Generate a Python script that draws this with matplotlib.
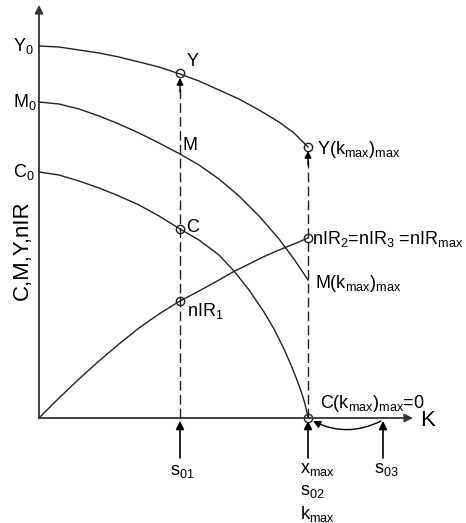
import matplotlib.pyplot as plt
from matplotlib.patches import FancyArrowPatch

plt.rcParams['font.family'] = ['Liberation Sans', 'DejaVu Sans']
plt.rcParams['mathtext.fontset'] = 'custom'
plt.rcParams['mathtext.rm'] = 'Liberation Sans'
plt.rcParams['mathtext.it'] = 'Liberation Sans'
plt.rcParams['mathtext.default'] = 'regular'

# curves (K, value)
y_k = [0, 20, 40, 60, 80, 100, 120, 141, 160, 180, 200, 220, 240, 255, 269]
y_v = [372, 371, 368, 365, 361, 356, 351, 344, 337, 328, 319, 308, 296, 285, 271]

m_k = [0, 20, 40, 60, 80, 100, 120, 141, 160, 180, 200, 220, 240, 255, 269]
m_v = [316, 314, 309, 302, 294, 285, 275, 264, 253, 239, 222, 202, 179, 159, 138]

c_k = [0, 20, 40, 60, 80, 100, 120, 141, 160, 180, 195, 210, 225, 235, 245, 252, 258, 263, 266, 269]
c_v = [246, 243, 237, 230, 222, 213, 202, 189, 178, 163, 147, 128, 106, 89, 69, 53, 38, 24, 14, 1]

nir_k = [0, 20, 40, 60, 80, 100, 120, 141, 160, 180, 194, 210, 224, 240, 255, 269]
nir_v = [0, 20, 39, 57, 74, 90, 104, 117, 127, 138, 146, 154, 161, 168, 174, 180]

s01 = 141
kmax = 269
s03 = 344

fig = plt.figure(figsize=(4.66, 5.23), dpi=100)
ax = fig.add_axes([0, 0, 1, 1])
ax.set_xlim(-39, 427)
ax.set_ylim(-105, 418)
ax.axis('off')

lw = 1.0
for k, v in [(y_k, y_v), (m_k, m_v), (c_k, c_v), (nir_k, nir_v)]:
    ax.plot(k, v, color='#222222', lw=lw)

# axes with arrows
ax.annotate('', xy=(0, 413), xytext=(0, 0),
            arrowprops=dict(arrowstyle='-|>', color='#333333', lw=1.3,
                            mutation_scale=12, shrinkA=0, shrinkB=0))
ax.annotate('', xy=(374, 0), xytext=(0, 0),
            arrowprops=dict(arrowstyle='-|>', color='#333333', lw=1.3,
                            mutation_scale=12, shrinkA=0, shrinkB=0))

# dashed verticals with arrow heads
ax.plot([s01, s01], [0, 334], color='#222222', lw=lw, dashes=(7, 3))
ax.annotate('', xy=(s01, 340), xytext=(s01, 326),
            arrowprops=dict(arrowstyle='-|>', color='black', lw=lw,
                            mutation_scale=10, shrinkA=0, shrinkB=0))
ax.plot([kmax, kmax], [0, 258], color='#222222', lw=lw, dashes=(7, 3))
ax.annotate('', xy=(kmax, 267), xytext=(kmax, 253),
            arrowprops=dict(arrowstyle='-|>', color='black', lw=lw,
                            mutation_scale=10, shrinkA=0, shrinkB=0))

# points
pts_k = [s01, s01, s01, kmax, kmax, kmax]
pts_v = [345, 189, 117, 271, 180, 0]
ax.plot(pts_k, pts_v, 'o', ms=6, mfc='none', mec='#222222', mew=1.0)

# arrows below the K axis
for k in [s01, kmax, s03]:
    ax.annotate('', xy=(k, -3), xytext=(k, -40),
                arrowprops=dict(arrowstyle='-|>', color='black', lw=1.2,
                                mutation_scale=12, shrinkA=0, shrinkB=0))

ax.add_patch(FancyArrowPatch((s03 - 2, -3), (kmax + 5, -3),
                             connectionstyle='arc3,rad=-0.25',
                             arrowstyle='-|>', mutation_scale=11,
                             color='black', lw=1.0, shrinkA=0, shrinkB=0))

fs = 13
ax.text(-26, 372, 'Y$_0$', fontsize=fs, va='center', ha='left')
ax.text(-26, 316, 'M$_0$', fontsize=fs, va='center', ha='left')
ax.text(-26, 246, 'C$_0$', fontsize=fs, va='center', ha='left')
ax.text(-17, 168, 'C,M,Y,nIR', fontsize=16, rotation=90, va='center', ha='center')

ax.text(148, 357, 'Y', fontsize=fs, va='center', ha='left')
ax.text(144, 273, 'M', fontsize=fs, va='center', ha='left')
ax.text(147, 191, 'C', fontsize=fs, va='center', ha='left')
ax.text(148, 107, 'nIR$_1$', fontsize=fs, va='center', ha='left')
ax.text(278, 268, 'Y(k$_{max}$)$_{max}$', fontsize=fs, va='center', ha='left')
ax.text(273, 179, 'nIR$_2$=nIR$_3$ =nIR$_{max}$', fontsize=fs, va='center', ha='left')
ax.text(276, 134, 'M(k$_{max}$)$_{max}$', fontsize=fs, va='center', ha='left')
ax.text(281, 15, 'C(k$_{max}$)$_{max}$=0', fontsize=fs, va='center', ha='left')
ax.text(381, -3, 'K', fontsize=16, va='center', ha='left')

ax.text(s01 + 2, -54, 's$_{01}$', fontsize=fs, va='center', ha='center')
ax.text(261, -51, 'x$_{max}$', fontsize=fs, va='center', ha='left')
ax.text(261, -74, 's$_{02}$', fontsize=fs, va='center', ha='left')
ax.text(261, -96, 'k$_{max}$', fontsize=fs, va='center', ha='left')
ax.text(s03 + 3, -52, 's$_{03}$', fontsize=fs, va='center', ha='center')

fig.savefig('out.png', dpi=100)
